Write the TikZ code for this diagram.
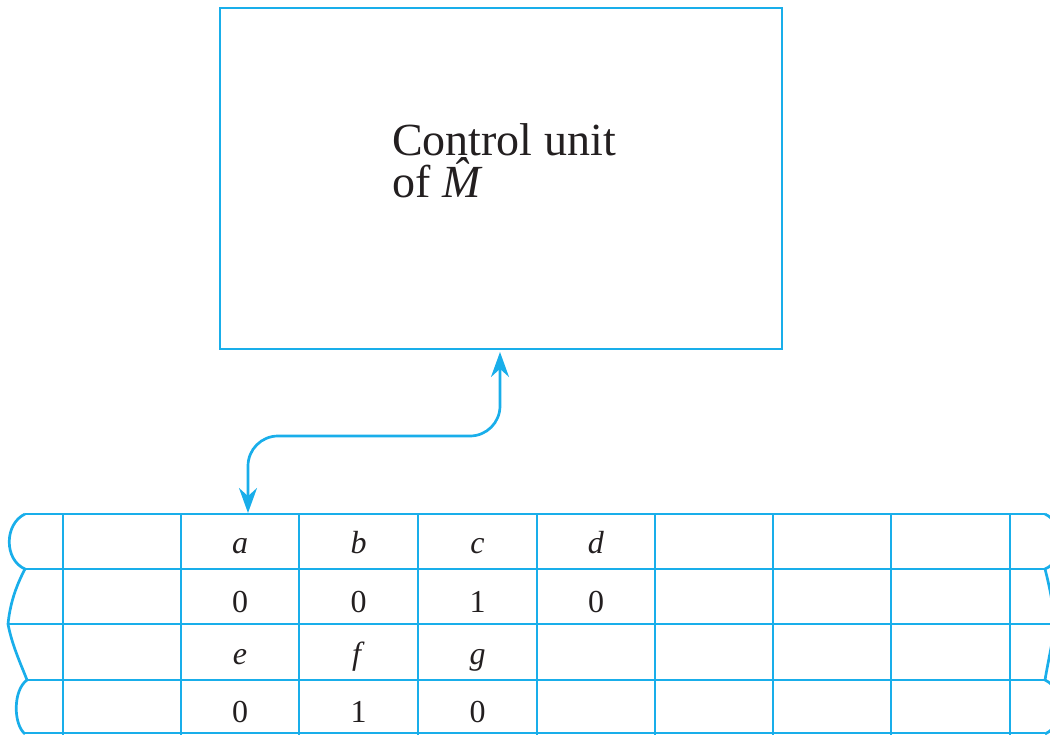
\documentclass[tikz,border=0pt]{standalone}
\usepackage{fontspec}
\setmainfont{Liberation Serif}
\usetikzlibrary{arrows.meta,calc}
\definecolor{cyanline}{RGB}{25,174,234}
\definecolor{ink}{RGB}{35,31,32}
\begin{document}
\begin{tikzpicture}[x=1pt,y=-1pt,
  line/.style={draw=cyanline,line width=2.7pt},
  unitbox/.style={line,rectangle,inner sep=0pt,outer sep=0pt,minimum width=562pt,minimum height=341pt},
  bigtext/.style={anchor=base west,inner sep=0pt,text=ink,font=\fontsize{46}{42}\selectfont},
  cell/.style={anchor=base,inner sep=0pt,text=ink,font=\fontsize{32}{36}\selectfont},
  link/.style={line,rounded corners=30pt,{Stealth[length=25pt,width=18pt]}-{Stealth[length=25pt,width=18pt]}}]
\useasboundingbox (0,0) rectangle (1050,734);
\begin{scope}
\clip (0,0) rectangle (1050,734);
% control unit
\node[unitbox] (cu) at (501,178.5) {};
\node[bigtext] (t1) at (392,155) {Control unit};
\node[bigtext] (t2) at (392,197) {of \textit{\^{M}}};
% tape horizontal lines
\draw[line] (25,514) -- (1045,514);
\draw[line] (25,569) -- (1045,569);
\draw[line] (8,624) -- (1055,624);
\draw[line] (27,680) -- (1045,680);
\draw[line] (25,733) -- (1045,733);
% verticals
\foreach \x in {63,181,299,418,537,655,773,891,1010}
  \draw[line] (\x,514) -- (\x,740);
% left wavy edge
\draw[line,line join=round] (25,514) .. controls (4,524) and (4,560) .. (25,569)
  .. controls (15,588) and (10,605) .. (8,624)
  .. controls (12,645) and (20,662) .. (27,680)
  .. controls (13,690) and (13,724) .. (25,734);
% right wavy edge
\draw[line,line join=round] (1045,514) .. controls (1066,524) and (1066,560) .. (1045,569)
  .. controls (1050,588) and (1053,605) .. (1055,624)
  .. controls (1052,645) and (1048,662) .. (1045,680)
  .. controls (1066,690) and (1066,724) .. (1045,734);
\end{scope}
% tape contents
\node[cell] (ca) at (240,553) {\textit{a}};
\node[cell] (cb) at (358.5,553) {\textit{b}};
\node[cell] (cc) at (477.5,553) {\textit{c}};
\node[cell] (cd) at (596,553) {\textit{d}};
\node[cell] (va) at (240,612) {0};
\node[cell] (vb) at (358.5,612) {0};
\node[cell] (vc) at (477.5,612) {1};
\node[cell] (vd) at (596,612) {0};
\node[cell] (ce) at (240,664) {\textit{e}};
\node[cell] (cf) at (358.5,664) {\textit{f}};
\node[cell] (cg) at (477.5,664) {\textit{g}};
\node[cell] (ve) at (240,722) {0};
\node[cell] (vf) at (358.5,722) {1};
\node[cell] (vg) at (477.5,722) {0};
% head connector
\coordinate (head) at (248,513);
\coordinate (cuport) at ($(cu.south west)+(280,3)$);
\draw[link] (head) |- ($(cuport)+(0,84)$) -- (cuport);
\end{tikzpicture}
\end{document}
